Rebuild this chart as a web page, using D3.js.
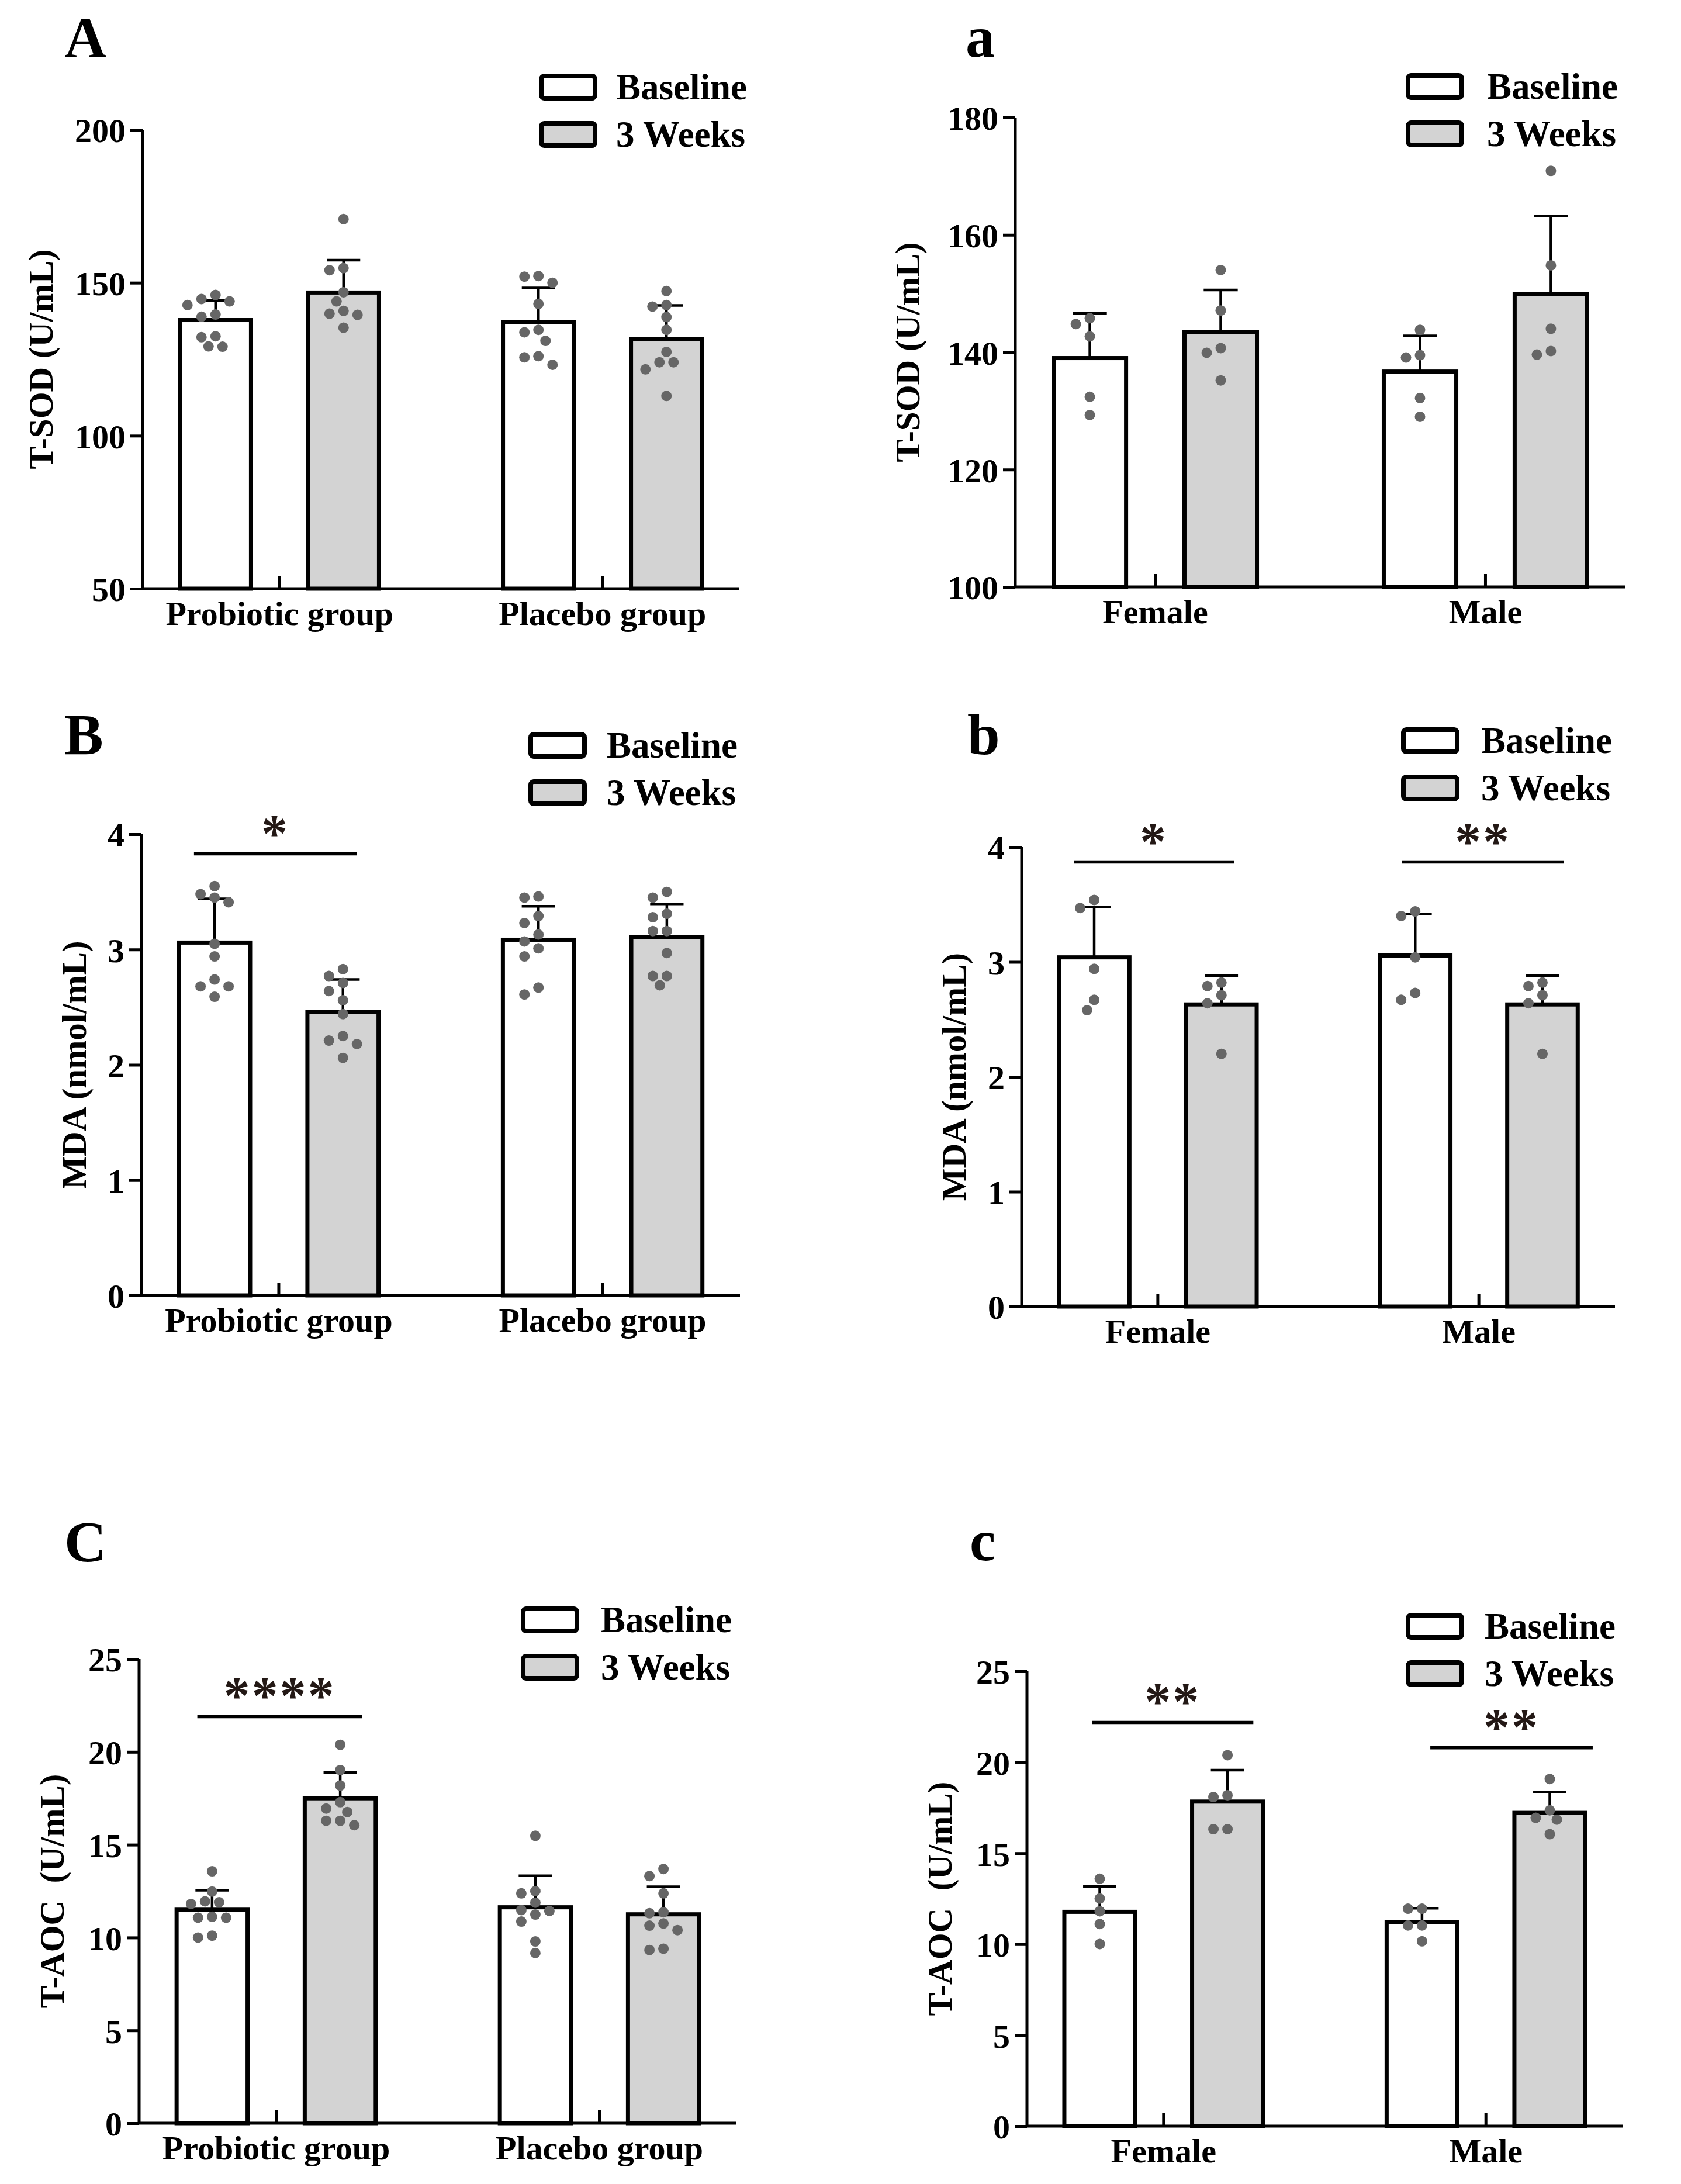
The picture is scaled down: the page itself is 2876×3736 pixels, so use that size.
<!DOCTYPE html>
<html><head><meta charset="utf-8">
<script src="https://cdn.jsdelivr.net/npm/d3@7"></script>
<style>
body{margin:0;background:#fff}
svg{display:block}
text{font-family:"Liberation Serif","Times New Roman",serif;font-weight:bold;fill:#000}
</style>
</head><body>
<svg id="chart" width="2876" height="3736"></svg>
<script>
// ---------- DATA ----------
const studyGroups = ["Probiotic group", "Placebo group"];
const sexGroups = ["Female", "Male"];
const timepoints = ["Baseline", "3 Weeks"];

// T-SOD (U/mL), study groups  [group][timepoint]
const sodStudyMeans = [[137.8, 146.8], [137.1, 131.5]];
const sodStudySD    = [[6.4, 10.6], [11.2, 11.1]];
const sodStudyPoints = [
  [[146.0,143.9,144.7,142.7,139.6,138.9,132.2,132.5,129.1,129.2],
   [170.8,154.8,154.1,146.9,143.9,140.8,139.9,139.5,135.3]],
  [[152.0,152.2,150.0,143.1,133.8,134.6,131.0,126.0,125.6,123.2],
   [147.3,142.2,142.7,138.8,134.6,127.4,124.0,124.0,121.7,113.0]]
];
const sodStudyTicks = [50, 100, 150, 200];

// T-SOD (U/mL), by sex
const sodSexMeans = [[139.0, 143.4], [136.7, 149.9]];
const sodSexSD    = [[7.6, 7.2], [6.1, 13.3]];
const sodSexPoints = [
  [[145.8,144.8,142.7,132.4,129.3], [154.0,147.1,140.7,139.9,135.2]],
  [[143.8,139.1,139.5,132.2,129.0], [170.9,154.8,144.0,139.6,140.2]]
];
const sodSexTicks = [100, 120, 140, 160, 180];

// MDA (nmol/mL), study groups
const mdaStudyMeans = [[3.06, 2.46], [3.085, 3.11]];
const mdaStudySD    = [[0.38, 0.28], [0.29, 0.285]];
const mdaStudyPoints = [
  [[3.55,3.45,3.48,3.41,3.05,2.94,2.74,2.68,2.68,2.59],
   [2.77,2.83,2.71,2.64,2.56,2.44,2.25,2.21,2.18,2.06]],
  [[3.45,3.46,3.29,3.23,3.13,3.07,3.01,2.94,2.67,2.61],
   [3.50,3.45,3.31,3.28,3.16,3.16,2.97,2.77,2.77,2.69]]
];
const mdaTicks = [0, 1, 2, 3, 4];

// MDA (nmol/mL), by sex
const mdaSexMeans = [[3.04, 2.63], [3.056, 2.63]];
const mdaSexSD    = [[0.44, 0.25], [0.36, 0.25]];
const mdaSexPoints = [
  [[3.54,3.47,2.94,2.67,2.58], [2.79,2.82,2.71,2.64,2.20]],
  [[3.40,3.44,3.04,2.73,2.67], [2.79,2.82,2.71,2.64,2.20]]
];

// T-AOC (U/mL), study groups
const aocStudyMeans = [[11.5, 17.5], [11.63, 11.25]];
const aocStudySD    = [[1.05, 1.4], [1.7, 1.49]];
const aocStudyPoints = [
  [[13.57,12.48,11.95,11.90,11.81,11.12,11.07,11.07,10.00,10.10],
   [20.38,19.02,18.19,17.29,16.95,16.76,16.29,16.29,16.05]],
  [[15.48,12.50,12.38,11.88,11.48,11.43,11.24,10.86,9.79,9.17],
   [13.69,13.31,12.38,11.31,11.36,10.64,10.76,10.40,9.33,9.40]]
];
const aocTicks = [0, 5, 10, 15, 20, 25];

// T-AOC (U/mL), by sex
const aocSexMeans = [[11.78, 17.84], [11.2, 17.22]];
const aocSexSD    = [[1.39, 1.73], [0.78, 1.14]];
const aocSexPoints = [
  [[13.60,12.51,11.81,11.11,10.01], [20.39,18.19,18.09,16.32,16.32]],
  [[11.95,11.95,11.03,11.03,10.16], [19.08,17.36,16.85,16.95,16.05]]
];

// significance annotations: group index, bar height (data units), label
const mdaStudySig = [{g:0, v:3.83, label:"*"}];
const mdaSexSig   = [{g:0, v:3.87, label:"*"}, {g:1, v:3.87, label:"**"}];
const aocStudySig = [{g:0, v:21.9, label:"****"}];
const aocSexSig   = [{g:0, v:22.19, label:"**"}, {g:1, v:20.8, label:"**"}];

// ---------- LAYOUT ----------
const panels = [
  {letter:"A", cats:studyGroups, title:"T-SOD (U/mL)", domain:[50,200], ticks:sodStudyTicks,
   means:sodStudyMeans, sds:sodStudySD, pts:sodStudyPoints, sig:[],
   L:{x0:244, x1:1265, yT:222, yB:1007, titleX:69, letX:110, letY:98, legX:926, legY:130, legTX:1054, sigSpan:[]}},
  {letter:"a", cats:sexGroups, title:"T-SOD (U/mL)", domain:[100,180], ticks:sodSexTicks,
   means:sodSexMeans, sds:sodSexSD, pts:sodSexPoints, sig:[],
   L:{x0:1737, x1:2781, yT:201, yB:1004, titleX:1552, letX:1652, letY:97, legX:2409, legY:129, legTX:2544, sigSpan:[]}},
  {letter:"B", cats:studyGroups, title:"MDA (nmol/mL)", domain:[0,4], ticks:mdaTicks,
   means:mdaStudyMeans, sds:mdaStudySD, pts:mdaStudyPoints, sig:mdaStudySig,
   L:{x0:242, x1:1266, yT:1427, yB:2216, titleX:126, letX:110, letY:1290, legX:908, legY:1256, legTX:1038, sigSpan:[[0.075,0.89]]}},
  {letter:"b", cats:sexGroups, title:"MDA (nmol/mL)", domain:[0,4], ticks:mdaTicks,
   means:mdaSexMeans, sds:mdaSexSD, pts:mdaSexPoints, sig:mdaSexSig,
   L:{x0:1748, x1:2763, yT:1449, yB:2235, titleX:1631, letX:1655, letY:1290, legX:2401, legY:1248, legTX:2534, sigSpan:[[0.075,0.885],[0.11,0.93]]}},
  {letter:"C", cats:studyGroups, title:"T-AOC\u00a0\u00a0(U/mL)", domain:[0,25], ticks:aocTicks,
   means:aocStudyMeans, sds:aocStudySD, pts:aocStudyPoints, sig:aocStudySig,
   L:{x0:238, x1:1260, yT:2838, yB:3632, titleX:88, letX:110, letY:2671, legX:895, legY:2752, legTX:1028, sigSpan:[[0.104,0.932]]}},
  {letter:"c", cats:sexGroups, title:"T-AOC\u00a0\u00a0(U/mL)", domain:[0,25], ticks:aocTicks,
   means:aocSexMeans, sds:aocSexSD, pts:aocSexPoints, sig:aocSexSig,
   L:{x0:1757, x1:2776, yT:2859, yB:3637, titleX:1607, letX:1659, letY:2669, legX:2409, legY:2763, legTX:2540, sigSpan:[[0.139,0.952],[0.22,1.038]]}}
];

const fills = ["#ffffff", "#d3d3d3"];
const FS = 58;
const svg = d3.select("#chart");

function swarm(vals, y, cx, r, step) {
  const placed = [], out = new Array(vals.length);
  const order = vals.map((v,i)=>({v,i})).sort((a,b)=>b.v-a.v);
  for (const o of order) {
    const py = y(o.v);
    for (let k = 0; k < 60; k++) {
      const off = k === 0 ? 0 : (k % 2 ? -1 : 1) * Math.ceil(k/2) * step;
      const px = cx + off;
      if (placed.every(p => Math.hypot(p.x-px, p.y-py) >= 2*r + 1)) {
        placed.push({x:px, y:py}); out[o.i] = {x:px, y:py, v:o.v}; break;
      }
    }
  }
  return out;
}

panels.forEach(P => {
  const L = P.L;
  const g = svg.append("g");
  const x0 = d3.scaleBand().domain(P.cats).range([L.x0, L.x1]).paddingInner(0.384).paddingOuter(0.116);
  const x1 = d3.scaleBand().domain(timepoints).range([0, x0.bandwidth()]).paddingInner(0.446).paddingOuter(0);
  const y = d3.scaleLinear().domain(P.domain).range([L.yB, L.yT]);

  // bars + error bars
  P.cats.forEach((c, gi) => {
    timepoints.forEach((t, ti) => {
      const bx = x0(c) + x1(t), bw = x1.bandwidth(), cx = bx + bw/2;
      const m = P.means[gi][ti], sd = P.sds[gi][ti];
      g.append("rect").attr("x", bx).attr("y", y(m)).attr("width", bw).attr("height", y(P.domain[0]) - y(m))
        .attr("fill", fills[ti]).attr("stroke", "#000").attr("stroke-width", 7);
      g.append("line").attr("x1", cx).attr("x2", cx).attr("y1", y(m)).attr("y2", y(m+sd))
        .attr("stroke", "#000").attr("stroke-width", 4.5);
      g.append("line").attr("x1", cx - bw*0.235).attr("x2", cx + bw*0.235).attr("y1", y(m+sd)).attr("y2", y(m+sd))
        .attr("stroke", "#000").attr("stroke-width", 4.5);
    });
  });
  // points
  P.cats.forEach((c, gi) => {
    timepoints.forEach((t, ti) => {
      const cx = x0(c) + x1(t) + x1.bandwidth()/2;
      const sw = swarm(P.pts[gi][ti], y, cx, 9, 12);
      g.selectAll(null).data(sw).enter().append("circle")
        .attr("cx", d => d.x).attr("cy", d => d.y).attr("r", 9).attr("fill", "#666666");
    });
  });

  // y axis
  const ya = g.append("g").attr("transform", `translate(${L.x0},0)`)
    .call(d3.axisLeft(y).tickValues(P.ticks).tickSize(21).tickPadding(8).tickFormat(d3.format("d")));
  ya.select(".domain").attr("stroke", "#000").attr("stroke-width", 5).attr("d", `M0,${L.yT}V${L.yB}`);
  ya.selectAll(".tick line").attr("stroke-width", 5);
  ya.selectAll(".tick text").attr("font-size", FS).attr("font-family", null).attr("dy", "0.36em");

  // x axis
  const xa = g.append("g").attr("transform", `translate(0,${L.yB})`)
    .call(d3.axisBottom(x0).tickSize(-22).tickPadding(14));
  xa.select(".domain").attr("stroke", "#000").attr("stroke-width", 5).attr("d", `M${L.x0 - 2},0H${L.x1}`);
  xa.selectAll(".tick line").attr("stroke-width", 5);
  xa.selectAll(".tick text").attr("font-size", FS).attr("font-family", null).attr("dy", "0.71em").attr("y", 21);

  // axis title
  g.append("text").attr("transform", `translate(${L.titleX},${(L.yT+L.yB)/2}) rotate(-90)`)
    .attr("text-anchor", "middle").attr("dy", "0.35em").attr("font-size", 59).text(P.title);

  // panel letter
  g.append("text").attr("x", L.letX).attr("y", L.letY).attr("font-size", 100).text(P.letter);

  // legend
  timepoints.forEach((t, ti) => {
    const ly = L.legY + ti*81;
    g.append("rect").attr("x", L.legX).attr("y", ly).attr("width", 92).attr("height", 38).attr("rx", 5)
      .attr("fill", fills[ti]).attr("stroke", "#000").attr("stroke-width", 8);
    g.append("text").attr("x", L.legTX).attr("y", ly + 19).attr("dy", "0.34em").attr("font-size", 63).text(t);
  });

  // significance
  P.sig.forEach((s, si) => {
    const span = L.sigSpan[si];
    const gx = x0(P.cats[s.g]), bw = x0.bandwidth();
    const xa1 = gx + span[0]*bw, xa2 = gx + span[1]*bw;
    const ly = y(s.v);
    g.append("line").attr("x1", xa1).attr("x2", xa2).attr("y1", ly).attr("y2", ly)
      .attr("stroke", "#000").attr("stroke-width", 5.5);
    g.append("text").attr("x", (xa1+xa2)/2).attr("y", ly - 5).attr("text-anchor", "middle")
      .attr("font-size", 90).attr("letter-spacing", 3)
      .style("fill", "#231815").text(s.label);
  });
});
</script>
</body></html>
